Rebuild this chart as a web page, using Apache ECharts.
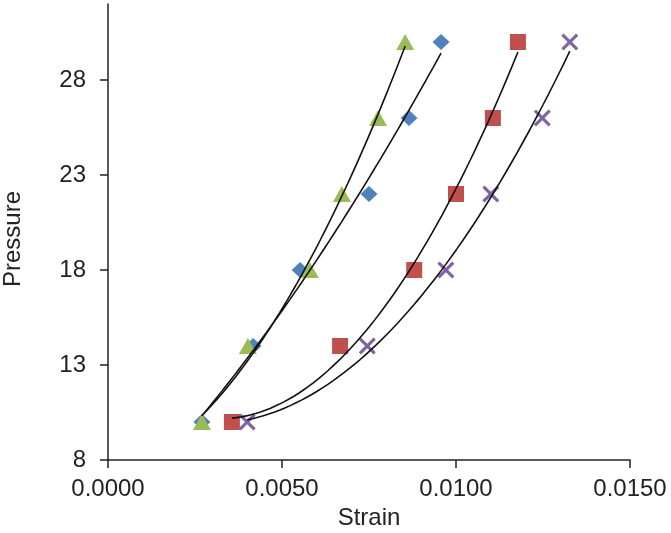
<!DOCTYPE html>
<html>
<head>
<meta charset="utf-8">
<script src="https://cdn.jsdelivr.net/npm/echarts@6/dist/echarts.min.js"></script>
<style>html,body{margin:0;padding:0;background:#fff}#c{width:671px;height:533px}</style>
</head>
<body>
<div id="c"></div>
<script>
const pressure = [10, 14, 18, 22, 26, 30];
const strainBlue   = [0.0027, 0.00417, 0.00552, 0.0075, 0.00865, 0.00957];
const strainRed    = [0.00356, 0.00667, 0.0088, 0.0100, 0.01106, 0.01178];
const strainGreen  = [0.0027, 0.00402, 0.0058, 0.00672, 0.00776, 0.00854];
const strainPurple = [0.0040, 0.00745, 0.00971, 0.0110, 0.01248, 0.01327];
const xTicks = [0, 0.005, 0.010, 0.015];
const yTicks = [8, 13, 18, 23, 28];

// quadratic least-squares trendline (like Excel polynomial order 2)
function quadFit(xs, ys) {
  const s = xs.map(v => v * 1000);
  let S = [0,0,0,0,0], T = [0,0,0];
  for (let i = 0; i < s.length; i++) {
    let p = 1;
    for (let k = 0; k < 5; k++) { S[k] += p; if (k < 3) T[k] += p * ys[i]; p *= s[i]; }
  }
  const M = [[S[0],S[1],S[2],T[0]],[S[1],S[2],S[3],T[1]],[S[2],S[3],S[4],T[2]]];
  for (let i = 0; i < 3; i++) {
    for (let j = i + 1; j < 3; j++) {
      const f = M[j][i] / M[i][i];
      for (let k = i; k < 4; k++) M[j][k] -= f * M[i][k];
    }
  }
  const c = [0,0,0];
  for (let i = 2; i >= 0; i--) {
    let v = M[i][3];
    for (let k = i + 1; k < 3; k++) v -= M[i][k] * c[k];
    c[i] = v / M[i][i];
  }
  const x0 = Math.min(...xs), x1 = Math.max(...xs);
  const pts = [];
  const n = 60;
  for (let i = 0; i <= n; i++) {
    const x = x0 + (x1 - x0) * i / n;
    const t = x * 1000;
    pts.push([x, c[0] + c[1] * t + c[2] * t * t]);
  }
  return pts;
}

const xMark = 'path://M0,1.3 L1.3,0 L5,3.7 L8.7,0 L10,1.3 L6.3,5 L10,8.7 L8.7,10 L5,6.3 L1.3,10 L0,8.7 L3.7,5 Z';
const sets = [
  {name: 'A', xs: strainBlue, color: '#4F81BD', symbol: 'diamond', size: [17, 16]},
  {name: 'B', xs: strainRed, color: '#C0504D', symbol: 'rect', size: 16},
  {name: 'C', xs: strainGreen, color: '#9BBB59', symbol: 'triangle', size: [18, 16]},
  {name: 'D', xs: strainPurple, color: '#8064A2', symbol: xMark, size: 17}
];

const series = [];
sets.forEach(s => {
  series.push({
    type: 'scatter', name: s.name,
    data: s.xs.map((x, i) => [x, pressure[i]]),
    symbol: s.symbol, symbolSize: s.size,
    itemStyle: {color: s.color, opacity: 1},
    z: 2
  });
});
sets.forEach(s => {
  series.push({
    type: 'line', name: s.name + ' trend',
    data: quadFit(s.xs, pressure),
    showSymbol: false, symbol: 'none',
    lineStyle: {color: '#111', width: 1.6},
    z: 5, silent: true
  });
});

const txt = '#222';
const font = 'Liberation Sans, Arial, sans-serif';
const chart = echarts.init(document.getElementById('c'));
chart.setOption({
  animation: false,
  backgroundColor: '#fff',
  grid: {left: 108, right: 41, top: 4, bottom: 73, containLabel: false, outerBoundsMode: 'none'},
  xAxis: {
    type: 'value', min: 0, max: 0.015, interval: 0.005,
    name: 'Strain', nameLocation: 'middle', nameGap: 40,
    nameTextStyle: {fontSize: 24, color: txt, fontFamily: font},
    axisLine: {show: true, lineStyle: {color: '#222', width: 1.5}},
    axisTick: {show: true, inside: false, length: 8, lineStyle: {color: '#222', width: 1.5}, customValues: xTicks},
    axisLabel: {fontSize: 24, color: txt, fontFamily: font, margin: 17, customValues: xTicks,
      formatter: v => v.toFixed(4)},
    splitLine: {show: false}
  },
  yAxis: {
    type: 'value', min: 8, max: 32, interval: 5,
    name: 'Pressure', nameLocation: 'middle', nameGap: 83, nameRotate: 90,
    nameTextStyle: {fontSize: 24, color: txt, fontFamily: font, padding: [0, 14, 0, 0]},
    axisLine: {show: true, lineStyle: {color: '#222', width: 1.5}},
    axisTick: {show: true, inside: false, length: 8, lineStyle: {color: '#222', width: 1.5}, customValues: yTicks},
    axisLabel: {fontSize: 24, color: txt, fontFamily: font, margin: 22, customValues: yTicks},
    splitLine: {show: false}
  },
  series: series
});
</script>
</body>
</html>
